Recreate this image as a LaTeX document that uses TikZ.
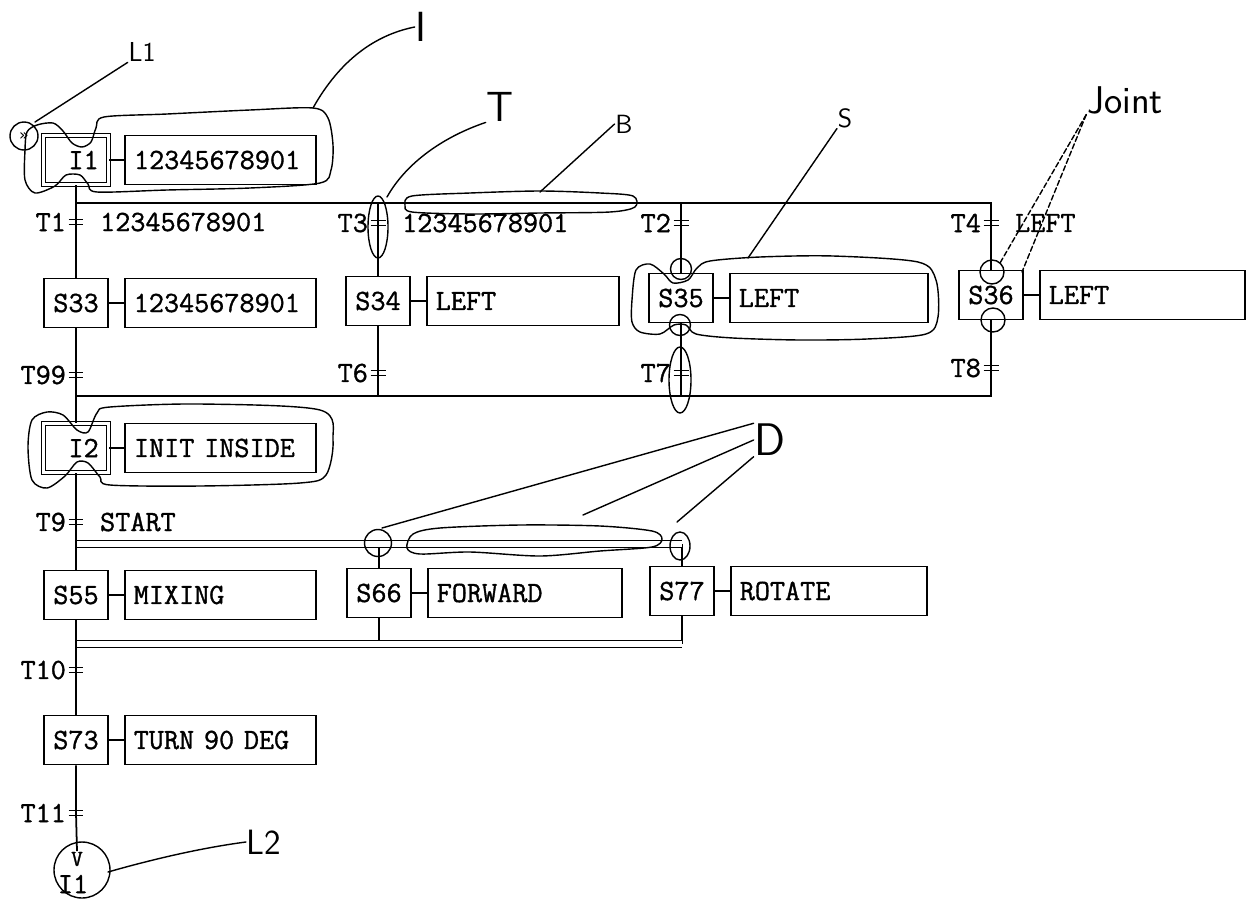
\documentclass[tikz,border=0pt]{standalone}
\usepackage{fontspec}
\newfontfamily\sfcmono[FakeBold=1.2]{Latin Modern Mono}
\newfontfamily\sfcsym{DejaVu Sans}
\newcommand\sfcfont{\sfcmono\fontsize{16.7}{19}\selectfont}
\newcommand\handfont[1]{\sffamily\fontsize{#1}{#1}\selectfont}

\tikzset{
	stepbox/.style={draw, minimum width=1.28cm, minimum height=0.98cm, inner sep=0pt},
	initbox/.style={draw, double, double distance=1.3pt, line width=0.7pt,
		minimum width=1.3cm, minimum height=0.98cm, inner sep=0pt},
	actbox/.style={draw, anchor=west, minimum height=0.98cm, inner xsep=0.18cm, align=left},
	trans/.style={minimum width=0.3cm, minimum height=0.11cm, inner sep=0pt, outer sep=0pt,
		append after command={(\tikzlastnode.north west) edge[line width=0.8pt] (\tikzlastnode.north east)
			(\tikzlastnode.south west) edge[line width=0.8pt] (\tikzlastnode.south east)}},
	tname/.style={inner sep=1pt},
	tcond/.style={inner sep=1pt, label distance=0.28cm},
	simul/.style={double, double distance=3.5pt, line width=0.7pt},
	hand/.style={line width=0.8pt, line join=round, line cap=round},
	handlab/.style={inner sep=0pt},
}

\begin{document}
\begin{tikzpicture}[x=0.02cm, y=-0.02cm, line width=1pt, font=\sfcfont]
	\useasboundingbox (0,0) rectangle (1254,903);
	% steps
	\node[initbox] (i1) at (76,160) {\phantom{I}I1};
	\node[initbox] (i2) at (76,448) {\phantom{I}I2};
	\foreach \n/\x/\y/\t in {s33/76/303/S33, s34/378/301/S34, s35/681/298/S35, s36/991/295/S36,
		s55/76/595/S55, s66/379/593/S66, s77/682/591/S77, s73/76/740/S73}
		\node[stepbox] (\n) at (\x,\y) {\t};
	% actions
	\foreach \n/\t/\w in {i1/12345678901/3.46, s33/12345678901/3.46, s34/LEFT/3.48, s35/LEFT/3.6,
		s36/LEFT/3.74, i2/INIT INSIDE/3.46, s55/MIXING/3.46, s66/FORWARD/3.52, s77/ROTATE/3.56,
		s73/TURN 90 DEG/3.46}{
		\node[actbox, text width=\w cm] (\n-act) at ([xshift=0.3cm]\n.east) {\t};
		\draw (\n.east) -- (\n-act.west);
	}
	% jump and entry marks
	\node[inner sep=0pt] (ent) at (24,136) {\sfcsym\fontsize{9}{10}\selectfont »};
	\node[inner sep=0pt] (jv) at (77,859) {\fontsize{13}{14}\selectfont V};
	\node[inner sep=0pt] (ji1) at (73,884) {I1};
	% transitions
	\foreach \n/\x/\y/\l/\c in {t1/76/222/T1/12345678901, t3/378/223/T3/12345678901, t2/681/223/T2/,
		t4/991/223/T4/LEFT, t99/76/375/T99/, t6/378/373/T6/, t7/681/373/T7/, t8/991/368/T8/,
		t9/76/522/T9/START, t10/76/670/T10/, t11/76/813/T11/}
		\node[trans, label={[tname]left:\l}, label={[tcond]right:\c}] (\n) at (\x,\y) {};
	% alternative branches
	\coordinate (sel1) at (991,203);
	\coordinate (con1) at (991,396);
	\draw (s33.north |- sel1) -- (sel1) -- (t4.center) -- (s36.north);
	\draw (s34.north |- sel1) -- (t3.center) -- (s34.north);
	\draw (s35.north |- sel1) -- (t2.center) -- (s35.north);
	\draw (s36.south) -- (t8.center) -- (con1) -- (s33.south |- con1);
	\draw (s34.south) -- (t6.center) -- (s34.south |- con1);
	\draw (s35.south) -- (t7.center) -- (s35.south |- con1);
	% simultaneous branches
	\coordinate (sim1) at (682,544);
	\coordinate (sim2) at (682,644);
	\draw (s66.north |- sim1) -- (s66.north);
	\draw (sim1) -- (s77.north);
	\draw (s66.south) -- (s66.south |- sim2);
	\draw (s77.south) -- (sim2);
	\draw[simul] (s55.north |- sim1) -- (sim1);
	\draw[simul] (s55.south |- sim2) -- (sim2);
	% main line
	\draw (i1.south) -- (t1.center) -- (s33.north);
	\draw (s33.south) -- (t99.center) -- (i2.north);
	\draw (i2.south) -- (t9.center) -- (s55.north);
	\draw (s55.south) -- (t10.center) -- (s73.north);
	\draw (s73.south) -- (t11.center) -- (jv.north);

	% hand-written marks
	\node[handlab, font=\handfont{15.6}] (lL1) at (142,52) {L1};
	\node[handlab, font=\handfont{24}] (lI) at (421,27) {I};
	\node[handlab, font=\handfont{24}] (lT) at (500,107) {T};
	\node[handlab, font=\handfont{15}] (lB) at (624,124) {B};
	\node[handlab, font=\handfont{15}] (lS) at (845,118) {S};
	\node[handlab, font=\handfont{22}] (lJ) at (1125,100) {Joint};
	\node[handlab, font=\handfont{26}] (lD) at (770,440) {D};
	\node[handlab, font=\handfont{20}] (lL2) at (264,842) {L2};

	\draw[hand] (ent.center) circle[radius=0.28cm];
	\draw[hand] (35,122) -- (lL1.south west);
	\draw[hand] plot[smooth cycle] coordinates {(25,150) (27,132) (37,125) (53,123) (63,131) (72,143)
		(82,147) (91,142) (96,128) (104,117) (167,114) (250,110) (313,108) (328,118) (333,145)
		(331,170) (320,183) (250,188) (167,190) (97,192) (88,184) (80,175) (66,175) (55,186)
		(35,193) (25,180)};
	\draw[hand] (313,108) .. controls (340,60) and (375,35) .. (lI.west);
	\draw[hand] (378,227) ellipse[x radius=0.2cm, y radius=0.62cm];
	\draw[hand] (387,197) .. controls (405,165) and (440,138) .. (lT.south west);
	\draw[hand] plot[smooth cycle] coordinates {(405,205) (412,196) (470,193) (540,191) (600,193)
		(633,196) (635,207) (610,212) (540,213) (470,214) (412,212)};
	\draw[hand] (540,192) -- (lB.west);
	\draw[hand] plot[smooth cycle] coordinates {(632,300) (636,270) (650,264) (664,274) (673,283)
		(688,280) (697,268) (710,261) (760,257) (833,256) (918,262) (936,280) (938,317) (926,334)
		(867,339) (800,340) (733,338) (696,334) (686,325) (674,325) (660,334) (640,332) (632,322)};
	\draw[hand] (681,269) circle[radius=0.21cm];
	\draw[hand] (680,325) circle[radius=0.21cm];
	\draw[hand] (748,258) -- (lS.south west);
	\draw[hand] (680,380) ellipse[x radius=0.22cm, y radius=0.66cm];
	\draw[hand] (992,272) circle[radius=0.24cm];
	\draw[hand] (993,320) circle[radius=0.24cm];
	\draw[hand, dash pattern=on 3pt off 1.5pt] (lJ.south west) -- (1000,263);
	\draw[hand, dash pattern=on 3pt off 1.5pt] (lJ.south west) -- (1022,272);
	\draw[hand] plot[smooth cycle] coordinates {(28,447) (32,420) (47,412) (63,415) (77,430) (88,432)
		(97,413) (110,407) (200,404) (320,410) (333,440) (326,475) (300,483) (200,486) (110,485)
		(100,477) (88,463) (77,462) (65,476) (47,488) (32,480)};
	\draw[hand] (378,543) circle[radius=0.27cm];
	\draw[hand] (680,546) ellipse[x radius=0.2cm, y radius=0.28cm];
	\draw[hand] plot[smooth cycle] coordinates {(407,548) (413,534) (440,528) (520,525) (600,526)
		(652,531) (662,539) (652,547) (600,551) (540,556) (470,552) (420,554)};
	\draw[hand] (lD.north west) -- (382,528);
	\draw[hand] (lD.west) -- (583,515);
	\draw[hand] (lD.south west) -- (677,522);
	\draw[hand] (82,870) circle[radius=0.56cm];
	\draw[hand] (lL2.west) .. controls (200,848) and (150,860) .. (108,872);
\end{tikzpicture}
\end{document}
